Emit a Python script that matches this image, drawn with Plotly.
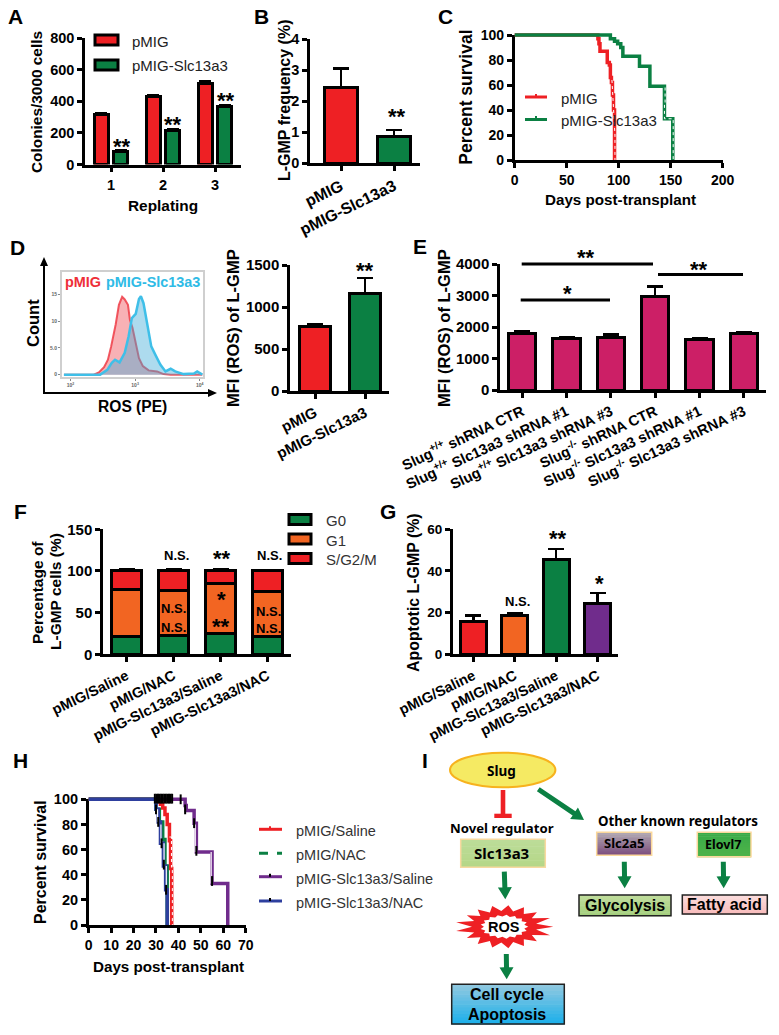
import plotly.graph_objects as go
import math

W, H = 779, 1035
RED, GREEN, ORANGE, PURPLE, BLUE, MAGENTA = "#ee2024", "#0b8043", "#f26522", "#702c8c", "#2e3f9e", "#cc1f66"
FONT = "Liberation Sans"

# ---- data ----
a_replating = [1, 2, 3]
a_pmig = [315, 430, 515]
a_pmig_err = [12, 8, 12]
a_slc = [85, 215, 365]
a_slc_err = [5, 8, 8]

two_groups = ["pMIG", "pMIG-Slc13a3"]
b_vals = [2.45, 0.85]
b_err = [0.6, 0.22]

c_red_x = [0, 79, 80, 81, 82, 88, 89, 91, 92, 93, 94, 95, 96]
c_red_y = [100, 100, 97, 93, 87, 87, 78, 76, 66, 62, 52, 40, 0]
c_green_x = [0, 88, 92, 96, 99, 102, 104, 119, 120, 130, 144, 152]
c_green_y = [100, 100, 97, 95, 93, 90, 83, 83, 75, 59, 33, 0]
c_red_dot_x = [93.5, 94.5, 95.5, 96.4, 96.4]
c_red_dot_y = [64, 50, 38, 20, 0]
c_green_dot_x = [144.6, 144.6, 144.0, 152.4, 152.4]
c_green_dot_y = [58, 45, 33, 33, 0]

d_red_log = [1.90, 2.36, 2.44, 2.52, 2.58, 2.63, 2.70, 2.75, 2.80, 2.84, 2.89, 2.92, 2.96, 3.01, 3.06, 3.12, 3.21, 3.34, 3.44, 3.55, 4.04]
d_red_n = [0, 0, 0.4, 1.4, 2.8, 5.3, 9.4, 13.1, 14.6, 14.1, 13.1, 10.3, 8.8, 5.9, 3.1, 1.6, 0.8, 0.6, 0.1, 0, 0]
d_blue_log = [1.90, 2.46, 2.57, 2.64, 2.69, 2.76, 2.84, 2.90, 2.95, 3.01, 3.06, 3.09, 3.13, 3.19, 3.25, 3.31, 3.39, 3.47, 3.55, 3.62, 3.75, 3.91, 3.96, 4.04]
d_blue_n = [0, 0, 0.9, 2.2, 2.8, 2.3, 4.1, 7.2, 10.6, 11.4, 14.2, 14.7, 13.4, 9.1, 5.3, 3.8, 1.9, 0.6, 1.1, 0.6, 0.1, 0.2, 0.6, 0]
d_vals = [770, 1155]
d_err = [30, 190]

e_groups = ["Slug<sup>+/+</sup> shRNA CTR", "Slug<sup>+/+</sup> Slc13a3 shRNA #1", "Slug<sup>+/+</sup> Slc13a3 shRNA #3",
            "Slug<sup>-/-</sup> shRNA CTR", "Slug<sup>-/-</sup> Slc13a3 shRNA #1", "Slug<sup>-/-</sup> Slc13a3 shRNA #3"]
e_vals = [1790, 1640, 1680, 2980, 1610, 1790]
e_err = [60, 30, 90, 310, 20, 30]

treatments = ["pMIG/Saline", "pMIG/NAC", "pMIG-Slc13a3/Saline", "pMIG-Slc13a3/NAC"]
f_g0 = [21, 22, 25, 21]
f_g0_err = [2, 1.5, 2, 1.5]
f_g1 = [57, 54, 60, 54]
f_g1_err = [3, 3, 3.5, 1.5]
f_s = [22, 24, 15, 25]
f_s_err = [2, 1.5, 1.5, 1]

g_vals = [15.5, 18.5, 45.5, 24.5]
g_err = [3, 1, 5, 4.8]

h_red_x = [0, 30, 31, 32, 33, 34, 35, 36, 36.5, 37]
h_red_y = [100, 100, 98, 96, 93, 88, 80, 67, 45, 0]
h_green_x = [0, 29, 30, 31.5, 33, 34, 35]
h_green_y = [100, 100, 92, 82, 68, 47, 0]
h_purple_x = [0, 41, 43, 43.5, 47, 48, 55, 62]
h_purple_y = [100, 100, 95, 91, 81, 58, 33, 0]
h_blue_x = [0, 29, 30, 31, 32, 33.3, 34.3, 35]
h_blue_y = [100, 100, 92, 82, 65, 47, 28, 0]
h_censor_x = [29.5, 30.2, 30.9, 31.6, 32.3, 33, 33.7, 34.4, 35.1, 35.8, 36.5, 37.2, 30, 31, 32.5, 33.5, 34.5, 41, 43, 47, 48, 55]
h_censor_y = [100.5, 100.5, 100.5, 100.5, 100.5, 100.5, 100.5, 100.5, 100.5, 100.5, 100.5, 100.5, 92, 82, 65, 48, 28, 100, 92, 81, 59, 35]
h_red_dot_x = [36.0, 36.9, 37.3, 37.3]
h_red_dot_y = [70, 46, 46, 0]
h_pale_x = [[30.7, 30.7], [32.2, 32.2], [33.6, 33.6], [34.6, 34.6], [47.5, 47.5], [54.6, 54.6]]
h_pale_y = [[92, 82], [80, 65], [65, 47], [47, 28], [80, 58], [58, 33]]


def px(x):
    return x / W


def py(y):
    return 1 - y / H


layout_axes = {}
annotations = []
shapes = []
fig = go.Figure()


def axes(n, x0, x1, y0, y1, xrange, yrange, xt=None, xl=None, yt=None, size=14.5, xsize=None, angle=0, width=2.5):
    sx = "" if n == 1 else str(n)
    xa = dict(domain=[px(x0), px(x1)], range=xrange, anchor="y" + sx, showgrid=False, zeroline=False, automargin=False,
              showline=True, linecolor="black", linewidth=width, ticks="outside", ticklen=5, tickwidth=width,
              tickcolor="black", tickmode="array", tickvals=xt, ticktext=xl, tickangle=angle,
              tickfont=dict(family=FONT, size=xsize or size, color="black", weight=700))
    ya = dict(domain=[py(y1), py(y0)], range=yrange, anchor="x" + sx, showgrid=False, zeroline=False, automargin=False,
              showline=True, linecolor="black", linewidth=width, ticks="outside", ticklen=5, tickwidth=width,
              tickcolor="black", tickmode="array", tickvals=yt, ticktext=[str(v) for v in yt],
              tickfont=dict(family=FONT, size=size, color="black", weight=700))
    layout_axes["xaxis" + sx] = xa
    layout_axes["yaxis" + sx] = ya
    return "x" + sx, "y" + sx


def hidden_axes(n, x0, x1, y0, y1, xrange, yrange, pad=5):
    # invisible copy of an axis pair with the same scale but a few px of headroom, so the lines at 100 are not clipped
    sx = str(n)
    ux = (xrange[1] - xrange[0]) / (x1 - x0)
    uy = (yrange[1] - yrange[0]) / (y1 - y0)
    layout_axes["xaxis" + sx] = dict(domain=[px(x0 - pad), px(x1 + pad)], range=[xrange[0] - pad * ux, xrange[1] + pad * ux],
                                     anchor="y" + sx, visible=False, automargin=False)
    layout_axes["yaxis" + sx] = dict(domain=[py(y1 + pad), py(y0 - pad)], range=[yrange[0] - pad * uy, yrange[1] + pad * uy],
                                     anchor="x" + sx, visible=False, automargin=False)
    return "x" + sx, "y" + sx


def T(x, y, text, size=14, bold=True, color="black", angle=0, family=FONT, xanchor="center"):
    annotations.append(dict(xref="paper", yref="paper", x=px(x), y=py(y), text=text, showarrow=False,
                            xanchor=xanchor, yanchor="middle", textangle=angle,
                            font=dict(family=family, size=size, color=color, weight=700 if bold else 400)))


def star(x, y, text="**", size=22):
    T(x, y + size * 0.2, text, size=size)


def rect(x0, y0, x1, y1, fill=None, line=None, lw=0):
    shapes.append(dict(type="rect", xref="paper", yref="paper", x0=px(x0), x1=px(x1), y0=py(y0), y1=py(y1),
                       fillcolor=fill or "rgba(0,0,0,0)", line=dict(color=line or "rgba(0,0,0,0)", width=lw)))


def seg(x0, y0, x1, y1, color="black", lw=2.5, dash="solid"):
    shapes.append(dict(type="line", xref="paper", yref="paper", x0=px(x0), x1=px(x1), y0=py(y0), y1=py(y1),
                       line=dict(color=color, width=lw, dash=dash)))


def poly(pts, fill, line=None, lw=0):
    path = "M " + " L ".join(f"{px(a):.5f},{py(b):.5f}" for a, b in pts) + " Z"
    shapes.append(dict(type="path", xref="paper", yref="paper", path=path, fillcolor=fill,
                       line=dict(color=line or "rgba(0,0,0,0)", width=lw)))


def arrow(x0, y0, x1, y1, color=GREEN, w=5, hw=14, hl=12):
    L = math.hypot(x1 - x0, y1 - y0)
    ux, uy = (x1 - x0) / L, (y1 - y0) / L
    nx, ny = -uy, ux
    bx, by = x1 - ux * hl, y1 - uy * hl
    poly([(x0 + nx * w / 2, y0 + ny * w / 2), (bx + nx * w / 2, by + ny * w / 2), (bx + nx * hw / 2, by + ny * hw / 2),
          (x1, y1), (bx - nx * hw / 2, by - ny * hw / 2), (bx - nx * w / 2, by - ny * w / 2),
          (x0 - nx * w / 2, y0 - ny * w / 2)], color)


def gradient(x0, y0, x1, y1, top, bottom, border, lw=1.5, n=12):
    t = tuple(int(top[i:i + 2], 16) for i in (1, 3, 5))
    b = tuple(int(bottom[i:i + 2], 16) for i in (1, 3, 5))
    for i in range(n):
        f = i / (n - 1)
        c = tuple(round(t[k] + (b[k] - t[k]) * f) for k in range(3))
        rect(x0, y0 + (y1 - y0) * i / n, x1, y0 + (y1 - y0) * (i + 1) / n + 0.5, fill=f"rgb{c}")
    rect(x0, y0, x1, y1, line=border, lw=lw)


def bar(xa, ya, x, y, err, color, width, cap=8, ew=2.5):
    e = None
    if err is not None:
        e = dict(type="data", array=err, arrayminus=[0] * len(err), symmetric=False, color="black", thickness=ew, width=cap)
    fig.add_trace(go.Bar(x=x, y=y, width=width, xaxis=xa, yaxis=ya, error_y=e,
                         marker=dict(color=color, line=dict(color="black", width=3))))


def curve(xa, ya, x, y, color, lw=3.5, dash="solid", shape="hv"):
    fig.add_trace(go.Scatter(x=x, y=y, xaxis=xa, yaxis=ya, mode="lines", cliponaxis=False,
                             line=dict(color=color, width=lw, shape=shape, dash=dash)))


def carrier(xa, ya, x, y):
    # transparent trace so that the visible axis pair is drawn while the curves sit on the hidden copy
    fig.add_trace(go.Scatter(x=x, y=y, xaxis=xa, yaxis=ya, mode="lines", opacity=0, hoverinfo="skip",
                             line=dict(color="rgba(0,0,0,0)", width=0)))


# ---- A ----
xa, ya = axes(1, 85, 241, 38, 164.5, [0.5, 3.5], [0, 800], a_replating, ["1", "2", "3"], [0, 200, 400, 600, 800])
bar(xa, ya, [r - 0.19 for r in a_replating], a_pmig, a_pmig_err, RED, 0.27, cap=6)
bar(xa, ya, [r + 0.19 for r in a_replating], a_slc, a_slc_err, GREEN, 0.27, cap=6)
T(37, 102, "Colonies/3000 cells", 15.4, angle=-90)
T(163, 205, "Replating", 15.4)
rect(95, 35, 118, 45, RED, "black", 3)
rect(95, 60, 118, 70, GREEN, "black", 3)
T(130, 41, "pMIG", 15, False, "#222", xanchor="left")
T(130, 65, "pMIG-Slc13a3", 15, False, "#222", xanchor="left")
star(122, 142)
star(173, 120)
star(226, 96)

# ---- B ----
xa, ya = axes(2, 310, 420, 39, 163.3, [-0.585, 1.49], [0, 4], two_groups, two_groups, [0, 1, 2, 3, 4], xsize=16, angle=-26)
bar(xa, ya, two_groups, b_vals, b_err, [RED, GREEN], 0.63)
T(285, 100, "L-GMP frequency (%)", 16, angle=-90)
star(397, 112)

# ---- C ----
xa, ya = axes(3, 514.7, 722.7, 35, 160, [0, 200], [0, 100], [0, 50, 100, 150, 200], ["0", "50", "100", "150", "200"],
              [0, 20, 40, 60, 80, 100], size=14)
carrier(xa, ya, c_red_x, c_red_y)
xh, yh = hidden_axes(10, 514.7, 722.7, 35, 160, [0, 200], [0, 100])
curve(xh, yh, c_red_x, c_red_y, RED)
curve(xh, yh, c_green_x, c_green_y, GREEN)
curve(xh, yh, c_red_dot_x, c_red_dot_y, "white", 1, "dot", "linear")
curve(xh, yh, c_green_dot_x, c_green_dot_y, "white", 1, "dot", "hv")
T(465.7, 97, "Percent survival", 17.5, angle=-90)
T(620, 200, "Days post-transplant", 15.2)
seg(525, 97, 547, 97, RED, 3)
seg(536, 94, 536, 97, RED, 2)
seg(525, 119.5, 547, 119.5, GREEN, 3)
seg(536, 116, 536, 119.5, GREEN, 2)
T(559, 98, "pMIG", 15, False, "#222", xanchor="left")
T(559, 121, "pMIG-Slc13a3", 15, False, "#222", xanchor="left")

# ---- D histogram ----
xa, ya = axes(4, 62, 203, 272, 377, [1.87, 4.05], [-0.44, 19.25], [2, 3, 4],
              ["10<sup>2</sup>", "10<sup>3</sup>", "10<sup>4</sup>"], [0, 5, 10, 15], size=5, width=1)
for ax in ("xaxis4", "yaxis4"):
    layout_axes[ax].update(linecolor="#cfcfcf", linewidth=2, mirror=True, ticklen=2, tickwidth=1, tickcolor="#888")
    layout_axes[ax]["tickfont"].update(color="#666")
layout_axes["yaxis4"]["ticktext"] = ["0", "5.0", "10", "15"]
fig.add_trace(go.Scatter(x=d_red_log, y=d_red_n, xaxis=xa, yaxis=ya, mode="lines", fill="tozeroy",
                         fillcolor="rgba(238,60,70,0.40)", line=dict(color="rgba(238,60,70,0.85)", width=2)))
fig.add_trace(go.Scatter(x=d_blue_log, y=d_blue_n, xaxis=xa, yaxis=ya, mode="lines", fill="tozeroy",
                         fillcolor="rgba(60,170,215,0.42)", line=dict(color="#3fbfe8", width=2.5)))
T(83, 282, "pMIG", 14.4, True, "#ee2f38")
T(153, 282, "pMIG-Slc13a3", 14.4, True, "#2fbbe6")
T(33, 323, "Count", 16.5, angle=-90)
T(132, 406, "ROS (PE)", 15.6)
arrow(44, 393, 44, 257, "black", 2, 8, 9)
arrow(43, 393, 217, 393, "black", 2, 8, 9)

# ---- D bars ----
xa, ya = axes(5, 290, 389, 265, 391, [-0.5, 1.48], [0, 1500], two_groups, two_groups, [0, 500, 1000, 1500], size=15, angle=-26)
bar(xa, ya, two_groups, d_vals, d_err, [RED, GREEN], 0.62)
T(233, 328, "MFI (ROS) of L-GMP", 16.5, angle=-90)
star(365, 266)

# ---- E ----
xa, ya = axes(6, 500, 766, 264, 390, [-0.5, 5.5], [0, 4000], e_groups, e_groups, [0, 1000, 2000, 3000, 4000], size=15, xsize=14.6, angle=-25)
bar(xa, ya, e_groups, e_vals, e_err, MAGENTA, 0.61)
T(444, 328, "MFI (ROS) of L-GMP", 16.5, angle=-90)
seg(521.7, 264, 653, 264, "black", 3)
seg(658, 274.5, 743, 274.5, "black", 3)
seg(520.7, 300, 610, 300, "black", 3)
star(585.7, 253)
star(699, 265)
star(567, 289, "*")

# ---- F ----
xa, ya = axes(7, 103, 291, 529.3, 654.3, [-0.5, 3.5], [0, 150], treatments, treatments, [0, 50, 100, 150], size=15, xsize=14.5, angle=-26)
bar(xa, ya, treatments, f_g0, f_g0_err, GREEN, 0.64, cap=8)
bar(xa, ya, treatments, f_g1, f_g1_err, ORANGE, 0.64, cap=8)
bar(xa, ya, treatments, f_s, f_s_err, RED, 0.64, cap=8)
T(37, 593, "Percentage of", 15.5, angle=-90)
T(55, 591, "L-GMP cells (%)", 15.5, angle=-90)
for lab, c, y in (("G0", GREEN, 519.5), ("G1", ORANGE, 539), ("S/G2/M", RED, 558.5)):
    rect(289, y - 5, 311, y + 5, c, "black", 3)
    T(324, y + 1, lab, 15, False, "#333", xanchor="left")
T(176, 555.5, "N.S.", 13)
star(222, 554)
T(269, 555.5, "N.S.", 13)
T(173, 608, "N.S.", 13)
T(173, 627, "N.S.", 13)
star(221, 595, "*")
star(221, 622)
T(268, 611, "N.S.", 13)
T(268, 628, "N.S.", 13)

# ---- G ----
xa, ya = axes(8, 452.7, 618.3, 529, 654.3, [-0.5, 3.5], [0, 60], treatments, treatments, [0, 20, 40, 60], size=13.5, xsize=14.5, angle=-26)
bar(xa, ya, treatments, g_vals, g_err, [RED, ORANGE, GREEN, PURPLE], 0.63)
T(413, 593, "Apoptotic L-GMP (%)", 15.9, angle=-90)
T(517, 601.5, "N.S.", 13)
star(558, 534)
star(599, 579, "*")

# ---- H ----
xa, ya = axes(9, 88.7, 245.7, 799.3, 925, [0, 70], [0, 100], list(range(0, 71, 10)), [str(v) for v in range(0, 71, 10)],
              [0, 20, 40, 60, 80, 100], size=14.5, xsize=14)
carrier(xa, ya, h_red_x, h_red_y)
xh, yh = hidden_axes(11, 88.7, 245.7, 799.3, 925, [0, 70], [0, 100])
curve(xh, yh, h_purple_x, h_purple_y, PURPLE)
curve(xh, yh, h_red_x, h_red_y, RED)
curve(xh, yh, h_green_x, h_green_y, GREEN)
curve(xh, yh, h_blue_x, h_blue_y, BLUE)
curve(xh, yh, h_red_dot_x, h_red_dot_y, "white", 1, "dot", "hv")
for p_x, p_y in zip(h_pale_x, h_pale_y):
    curve(xh, yh, p_x, p_y, "white", 1.2, "solid", "linear")
fig.add_trace(go.Scatter(x=h_censor_x, y=h_censor_y, xaxis=xh, yaxis=yh, mode="markers", cliponaxis=False,
                         marker=dict(symbol="line-ns", size=7, line=dict(color="black", width=2))))
T(40, 862, "Percent survival", 16, angle=-90)
T(168, 966, "Days post-transplant", 15.2)
for lab, c, y, tick, dash in (("pMIG/Saline", RED, 829.3, RED, "solid"), ("pMIG/NAC", GREEN, 853.3, None, "dash"),
                              ("pMIG-Slc13a3/Saline", PURPLE, 876.7, "black", "solid"), ("pMIG-Slc13a3/NAC", BLUE, 901, "black", "solid")):
    seg(259, y, 282, y, c, 3, dash)
    if tick:
        seg(270, y - 3, 270, y, tick, 2)
    T(294, y + 2, lab, 14.5, False, "#333", xanchor="left")

# ---- I diagram ----
NOTO = "Noto Sans"
shapes.append(dict(type="circle", xref="paper", yref="paper", x0=px(450), x1=px(555.4), y0=py(752.7), y1=py(787.3),
                   fillcolor="#f5ea63", line=dict(color="#f7b21e", width=2)))
T(501.7, 770.5, "Slug", 13.5, family=NOTO)
rect(500.7, 790, 505.3, 814, RED)
rect(494.3, 813.7, 511.7, 818, RED)
T(502.3, 828, "Novel regulator", 13.2, family=NOTO)
gradient(460.7, 839.3, 545.3, 867.3, "#bcdc98", "#b5d788", "#f8d9a0")
T(501.7, 852.7, "Slc13a3", 15, family=NOTO)
arrow(504.3, 871.7, 505.3, 899.3)
cx, cy = 504.3, 926.7
pts = []
nsp = 17
for i in range(nsp * 2):
    ang = math.pi * i / nsp
    rr = (1.0 if abs(math.cos(ang)) > 0.9 else 0.9) if i % 2 == 0 else 0.66
    pts.append((cx + 49 * rr * math.cos(ang), cy + 24 * (rr if i % 2 == 0 else 0.66) * math.sin(ang)))
poly(pts, RED)
pts = []
for i in range(nsp * 2):
    ang = math.pi * i / nsp
    rr = 1.0 if i % 2 == 0 else 0.85
    pts.append((cx + 24 * rr * math.cos(ang), cy + 12 * rr * math.sin(ang)))
poly(pts, "white")
T(504, 927, "ROS", 14.5)
arrow(506.3, 954, 506.7, 979.3)
gradient(451.7, 984.3, 564.3, 1024, "#8ec8e0", "#1fb0ea", "#222", 1.5)
T(506.7, 994.5, "Cell cycle", 16)
T(506.7, 1014, "Apoptosis", 16)
arrow(538.3, 789.3, 584, 820)
T(678, 821, "Other known regulators", 13.3, family=NOTO)
gradient(596.7, 832.3, 651.7, 855.3, "#b0a6b0", "#7d4f7f", "#fbd89b")
T(624, 842.5, "Slc2a5", 13, family=NOTO)
gradient(697.3, 832.3, 751, 856.7, "#3aaa48", "#4db34a", "#fbd89b")
T(723, 844, "Elovl7", 12.5, family=NOTO)
arrow(624.3, 861.7, 624.7, 888.3)
arrow(723.3, 861.7, 723.7, 888.3)
gradient(579, 895, 671, 915.7, "#c0dd9c", "#a4cf7e", "#222", 1.5)
T(624.5, 905, "Glycolysis", 16)
gradient(682.3, 895, 767.3, 914, "#fbdcdc", "#f8bcbc", "#222", 1.5)
T(724.5, 904.5, "Fatty acid", 16)

# ---- panel letters ----
for lab, x, y in (("A", 16, 16), ("B", 261, 16), ("C", 445, 16), ("D", 17, 247), ("E", 420, 246),
                  ("F", 20, 512), ("G", 388, 512), ("H", 20, 760), ("I", 425, 760)):
    T(x, y, lab, 21)

fig.update_layout(template="none", width=W, height=H, autosize=False, margin=dict(l=0, r=0, t=0, b=0, pad=0), showlegend=False,
                  barmode="stack", paper_bgcolor="white", plot_bgcolor="rgba(0,0,0,0)",
                  annotations=annotations, shapes=shapes, **layout_axes)
fig.write_html("out.html", config=dict(displayModeBar=False),
               post_script="document.body.style.margin='0';document.body.style.overflow='hidden';")
